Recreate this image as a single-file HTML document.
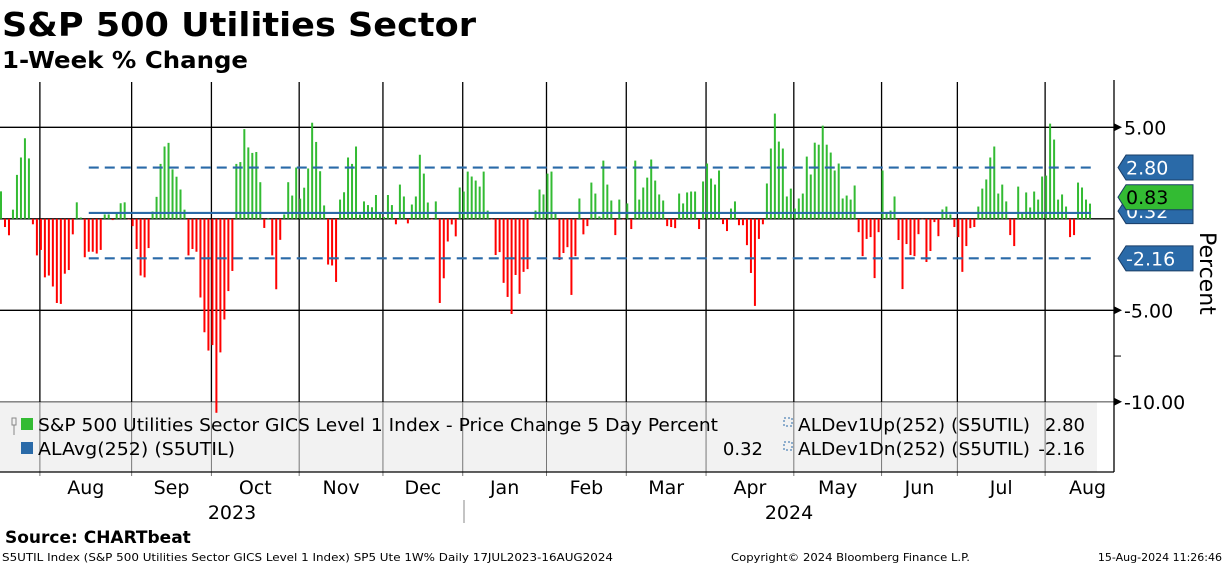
<!DOCTYPE html>
<html><head><meta charset="utf-8">
<style>
html,body{margin:0;padding:0;background:#fff;}
svg{display:block;font-family:"DejaVu Sans","Liberation Sans",sans-serif;}
</style></head>
<body>
<svg id="chart" width="1224" height="566" viewBox="0 0 1224 566">
  <text x="2" y="36" font-size="33" font-weight="bold" textLength="474" lengthAdjust="spacingAndGlyphs">S&amp;P 500 Utilities Sector</text>
  <text x="2" y="68" font-size="23" font-weight="bold" textLength="246" lengthAdjust="spacingAndGlyphs">1-Week % Change</text>
  <rect x="0" y="402" width="1097" height="70" fill="#f2f2f2"/>
  <g id="grid"></g>
  <g id="bars"></g>
  <g id="refs"></g>
  <g id="axis"></g>
  <g id="xaxis"></g>
  <g id="legend">
    <rect x="12" y="418" width="4" height="7" fill="none" stroke="#888" stroke-width="1"/>
    <line x1="14" y1="425" x2="14" y2="435" stroke="#888"/>
    <rect x="21" y="418" width="12" height="12" fill="#33bb33"/>
    <text x="38" y="431" font-size="18" textLength="680" lengthAdjust="spacingAndGlyphs">S&amp;P 500 Utilities Sector GICS Level 1 Index - Price Change 5 Day Percent</text>
    <rect x="21" y="442" width="12" height="12" fill="#2a6aa8"/>
    <text x="38" y="455" font-size="18" textLength="197" lengthAdjust="spacingAndGlyphs">ALAvg(252) (S5UTIL)</text>
    <text x="763" y="455" font-size="18" text-anchor="end">0.32</text>
    <rect x="784" y="418" width="8" height="8" fill="none" stroke="#2a6aa8" stroke-dasharray="2,2"/>
    <text x="798" y="431" font-size="18" textLength="232" lengthAdjust="spacingAndGlyphs">ALDev1Up(252) (S5UTIL)</text>
    <text x="1085" y="431" font-size="18" text-anchor="end">2.80</text>
    <rect x="784" y="442" width="8" height="8" fill="none" stroke="#2a6aa8" stroke-dasharray="2,2"/>
    <text x="798" y="455" font-size="18" textLength="232" lengthAdjust="spacingAndGlyphs">ALDev1Dn(252) (S5UTIL)</text>
    <text x="1085" y="455" font-size="18" text-anchor="end">-2.16</text>
  </g>
  <text x="0" y="0" font-size="22" transform="translate(1200,232) rotate(90)">Percent</text>
  <text x="5" y="543" font-size="17" font-weight="bold">Source:  CHARTbeat</text>
  <text x="2" y="561" font-size="11" textLength="611" lengthAdjust="spacingAndGlyphs">S5UTIL Index (S&amp;P 500 Utilities Sector GICS Level 1 Index) SP5 Ute 1W%  Daily 17JUL2023-16AUG2024</text>
  <text x="731" y="561" font-size="11" textLength="239" lengthAdjust="spacingAndGlyphs">Copyright© 2024 Bloomberg Finance L.P.</text>
  <text x="1222" y="561" font-size="11" text-anchor="end">15-Aug-2024 11:26:46</text>
</svg>
<script>
const values = [1.5,-0.45,-0.9,0.5,2.4,3.35,4.4,3.3,-0.3,-2.0,-1.7,-3.2,-3.1,-3.7,-4.6,-4.65,-3.0,-2.8,-0.85,0.9,
0.07,-2.1,-1.8,-1.8,-1.9,-1.7,0.24,0.24,-0.07,0.33,0.85,0.9,-0.03,-0.4,-1.65,-3.1,-3.2,-1.6,0.4,1.2,
3.0,3.95,4.15,2.7,2.3,1.6,0.5,-2.0,-1.65,-1.8,-4.3,-6.2,-7.2,-6.9,-10.6,-7.3,-5.5,-3.95,-2.85,3.0,
3.1,4.9,3.9,3.6,3.65,2.0,-0.5,0.04,-2.0,-3.85,-1.15,0.24,2.0,1.27,2.8,1.1,1.7,2.75,5.25,4.2,
2.6,0.73,-2.5,-2.55,-3.45,1.05,1.45,3.35,3.0,3.95,0.24,0.95,0.75,0.63,1.3,0.35,0.1,1.3,0.75,-0.3,
1.87,1.22,-0.25,0.78,1.22,3.5,2.47,0.89,-0.02,0.95,-4.6,-3.25,-1.24,-0.31,-0.96,1.71,1.49,2.58,2.31,2.09,
1.76,2.58,0.45,-0.02,-1.98,-1.82,-3.5,-4.27,-5.2,-3.07,-4.1,-2.9,-2.75,-0.02,0.45,1.6,1.33,2.47,2.58,0.33,
-2.25,-1.87,-1.55,-4.16,-2.04,1.11,-0.85,-0.4,1.98,1.38,0.13,3.18,1.87,1.0,-0.89,1.05,-0.02,0.84,-0.56,3.18,
1.05,1.71,2.25,3.24,2.09,1.33,1.0,-0.4,-0.45,-0.51,1.38,0.84,1.44,1.49,1.49,-0.56,2.04,3.02,2.2,1.87,
2.64,-0.29,-0.67,0.56,0.95,-0.35,-0.35,-1.44,-2.96,-4.76,-1.1,-0.3,1.93,3.84,5.75,4.22,3.84,1.22,1.65,0.56,
1.11,1.38,3.4,2.42,4.16,4.05,5.09,4.05,3.62,2.64,3.02,1.11,1.27,1.05,1.82,-0.73,-2.04,-1.1,-1.0,-3.24,
-0.73,2.64,0.35,0.45,1.22,-1.16,-3.84,-1.38,-1.98,-2.04,-0.84,-0.02,-2.36,-1.76,-0.18,-0.95,0.51,0.67,0.24,-0.45,
-1.0,-2.9,-1.49,-0.51,-0.45,0.67,1.65,2.15,3.35,3.95,1.38,1.87,0.95,-0.89,-1.49,1.76,0.35,1.44,0.62,1.49,
1.05,2.31,2.36,5.2,4.33,1.05,1.33,0.67,-1.0,-0.89,1.98,1.71,1.05,0.83];
const avgValue = 0.32;
const devUp = 2.80;
const devDn = -2.16;
const yTicks = [5, -5, -10];
const yTickLabels = ["5.00", "-5.00", "-10.00"];
const months = ["Aug","Sep","Oct","Nov","Dec","Jan","Feb","Mar","Apr","May","Jun","Jul","Aug"];
const monthStartIdx = [10,33,53,75,96,116,137,157,177,199,221,240,262];
const years = ["2023","2024"];

const NS = "http://www.w3.org/2000/svg";
function y(v){ return 218.8 - v*18.3; }
function x(i){ return 1 + i*3.989; }
function mk(tag, attrs, parent){
  const e = document.createElementNS(NS, tag);
  for (const k in attrs) e.setAttribute(k, attrs[k]);
  parent.appendChild(e); return e;
}
const grid = document.getElementById('grid');
const bars = document.getElementById('bars');
const refs = document.getElementById('refs');
const axis = document.getElementById('axis');
const xaxis = document.getElementById('xaxis');

yTicks.forEach((t,k)=>{
  const l = mk('line',{x1:0,x2:1114,y1:y(t),y2:y(t),stroke: t===-10?'#777':'#000','stroke-width':1.3},grid);
  
  
  const tk = mk('polygon',{points:`1114,${y(t)-4} 1122,${y(t)} 1114,${y(t)+4}`,fill:'#000'},axis);
  
  
  const tx = mk('text',{x:1124,y:y(t)+7,'font-size':19},axis);
  tx.textContent = yTickLabels[k];
  
  
});
mk('line',{x1:1114,x2:1121,y1:y(-7.5),y2:y(-7.5),stroke:'#000'},axis);
monthStartIdx.forEach((mi,k)=>{
  const gx = x(mi) - 1;
  const l = mk('line',{x1:gx,x2:gx,y1:82,y2:402,stroke:'#000','stroke-width':1.3},grid);
  
  
  mk('line',{x1:gx,x2:gx,y1:402,y2:476,stroke:'#777','stroke-width':1},grid);
  const next = k+1 < monthStartIdx.length ? x(monthStartIdx[k+1]) - 1 : 1130;
  const t = mk('text',{x:(gx+next)/2,y:494,'font-size':19,'text-anchor':'middle'},xaxis);
  t.textContent = months[k];
  
  
});
const z = mk('line',{x1:0,x2:1114,y1:y(0),y2:y(0),stroke:'#000','stroke-width':1.3},grid);


values.forEach((v,i)=>{
  const top = Math.min(y(v), y(0)), h = Math.max(Math.abs(y(v)-y(0)),0.6);
  const r = mk('rect',{x:x(i)-1, y:top, width:2, height:h, fill: v>=0?'#33bb33':'#ff0000'},bars);
  
  
});
const xs = x(22), xe = x(values.length-1)+1;
const a = mk('line',{x1:xs,x2:xe,y1:y(avgValue),y2:y(avgValue),stroke:'#2a6aa8','stroke-width':2.2},refs);


[devUp,devDn].forEach((d,k)=>{
  const l = mk('line',{x1:xs,x2:xe,y1:y(d),y2:y(d),stroke:'#2a6aa8','stroke-width':2.2,'stroke-dasharray':'10,6'},refs);
  
  
});
mk('line',{x1:1114,x2:1114,y1:80,y2:472,stroke:'#000','stroke-width':1.3},axis);
mk('line',{x1:0,x2:1114,y1:472,y2:472,stroke:'#000','stroke-width':1.3},axis);
mk('line',{x1:464,x2:464,y1:500,y2:523,stroke:'#888'},xaxis);
[[232,years[0]],[789,years[1]]].forEach(([px,s])=>{
  const t = mk('text',{x:px,y:519,'font-size':19,'text-anchor':'middle'},xaxis);
  t.textContent = s;
  
  
});
function tag(v, color, txtColor, label, name){
  const cy = y(v), h=25;
  const p = mk('polygon',{points:`1118,${cy} 1126,${cy-h/2} 1193,${cy-h/2} 1193,${cy+h/2} 1126,${cy+h/2}`,fill:color,stroke:'#1a3d66','stroke-width':1},axis);
  
  
  const t = mk('text',{x:1126,y:cy+7,'font-size':19,fill:txtColor},axis);
  t.textContent = label;
  
  
}
tag(avgValue+0.1,'#2a6aa8','#fff',avgValue.toFixed(2),'avg-tag');
tag(devUp,'#2a6aa8','#fff',devUp.toFixed(2),'dev-up-tag');
tag(devDn,'#2a6aa8','#fff',devDn.toFixed(2),'dev-dn-tag');
tag(values[values.length-1]+0.35,'#33bb33','#000',values[values.length-1].toFixed(2),'last-value-tag');
</script>
</body></html>
